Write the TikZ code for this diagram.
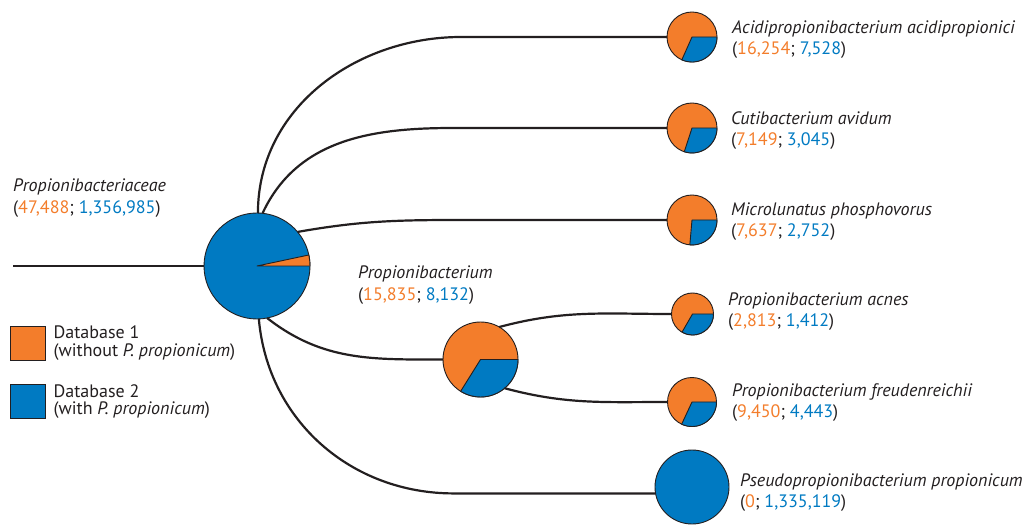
\documentclass[tikz,border=0pt]{standalone}
\usepackage{fontspec}
\setmainfont{PT Sans}
\usetikzlibrary{positioning,calc}

\definecolor{dborange}{HTML}{F37D2B}
\definecolor{dbblue}{HTML}{007AC2}
\definecolor{inkgray}{HTML}{231F20}

% read counts: (database 1; database 2)
\newcommand{\counts}[2]{(\textcolor{dborange}{#1}; \textcolor{dbblue}{#2})}
% one pie slice: centre, radius, start angle, end angle, colour
\newcommand{\pieslice}[5]{%
  \filldraw[fill=#5, draw=inkgray, line width=0.9pt, line join=round]
    (#1) -- ++(#3:#2) arc[start angle=#3, end angle=#4, radius=#2] -- cycle;}

\begin{document}
\begin{tikzpicture}[x=1pt,y=1pt,
    branch/.style={line width=2.2pt, draw=inkgray},
    pienode/.style={circle, draw=inkgray, line width=0.9pt, inner sep=0pt, outer sep=0pt},
    taxon/.style={anchor=west, align=left, inner sep=0pt, text=inkgray,
      font=\fontsize{18}{21.5}\selectfont},
    keybox/.style={draw=inkgray, line width=0.9pt, minimum width=35pt, minimum height=34pt, inner sep=0pt},
    keytext/.style={anchor=west, align=left, inner sep=0pt, text=inkgray,
      font=\fontsize{18}{17.5}\selectfont}]
  \useasboundingbox (0,0) rectangle (1034,-529);

  % pies
  \node[pienode, fill=dbblue, minimum size=106pt] (root) at (257,-266) {};
  \node[pienode, fill=dborange, minimum size=50pt] (acidi) at (692,-37) {};
  \node[pienode, fill=dborange, minimum size=50pt] (cuti) at (692,-128) {};
  \node[pienode, fill=dborange, minimum size=50pt] (micro) at (692,-220) {};
  \node[pienode, fill=dborange, minimum size=75pt] (propi) at (480.5,-359.5) {};
  \node[pienode, fill=dborange, minimum size=42pt] (acnes) at (692.5,-314) {};
  \node[pienode, fill=dborange, minimum size=49pt] (freud) at (692,-402) {};
  \node[pienode, fill=dbblue, minimum size=74pt] (pseudo) at (692,-487) {};

  \pieslice{root.center}{53}{0}{12}{dborange}
  \pieslice{acidi.center}{25}{0}{-114}{dbblue}
  \pieslice{cuti.center}{25}{0}{-108}{dbblue}
  \pieslice{micro.center}{25}{0}{-95}{dbblue}
  \pieslice{propi.center}{37.5}{0}{-122}{dbblue}
  \pieslice{acnes.center}{21}{0}{-120}{dbblue}
  \pieslice{freud.center}{24.5}{0}{-115}{dbblue}

  % branches
  \coordinate (stem) at (13,-266);
  \draw[branch] (stem) -- (root);
  \draw[branch] (root.89) to[out=90,in=180] ($(acidi.west)+(-206,0)$) -- (acidi.west);
  \draw[branch] (root.84) to[out=65,in=180] ($(cuti.west)+(-214,0)$) -- (cuti.west);
  \draw[branch] (root.40) to[out=10,in=180] ($(micro.west)+(-207,0)$) -- (micro.west);
  \draw[branch] (root.-79) to[out=-38,in=180] (propi.west);
  \draw[branch] (root.-88) to[out=-85,in=180] ($(pseudo.190)+(-202,0)$) -- (pseudo.190);
  \draw[branch] (propi.60) to[out=15,in=180] (acnes.west);
  \draw[branch] (propi.-50) to[out=-15,in=180] (freud.west);

  % labels
  \node[taxon] (rootlab) at (13,-198) {\textit{Propionibacteriaceae}\\\counts{47,488}{1,356,985}};
  \node[taxon] (propilab) at (358,-285) {\textit{Propionibacterium}\\\counts{15,835}{8,132}};
  \node[taxon] (acidilab) at (732,-39.5) {\textit{Acidipropionibacterium acidipropionici}\\\counts{16,254}{7,528}};
  \node[taxon] (cutilab) at (731,-130.5) {\textit{Cutibacterium avidum}\\\counts{7,149}{3,045}};
  \node[taxon] (microlab) at (731,-221.5) {\textit{Microlunatus phosphovorus}\\\counts{7,637}{2,752}};
  \node[taxon] (acneslab) at (728,-311.5) {\textit{Propionibacterium acnes}\\\counts{2,813}{1,412}};
  \node[taxon] (freudlab) at (732,-402.5) {\textit{Propionibacterium freudenreichii}\\\counts{9,450}{4,443}};
  \node[taxon] (pseudolab) at (740,-492.5) {\textit{Pseudopropionibacterium propionicum}\\\counts{0}{1,335,119}};

  % legend
  \node[keybox, fill=dborange] (key1) at (27.5,-343) {};
  \node[keybox, fill=dbblue] (key2) at (27.5,-401.5) {};
  \node[keytext, right=8pt of key1] (key1lab) {Database 1\\(without \textit{P.~propionicum})};
  \node[keytext, right=8pt of key2] (key2lab) {Database 2\\(with \textit{P.~propionicum})};
\end{tikzpicture}
\end{document}
